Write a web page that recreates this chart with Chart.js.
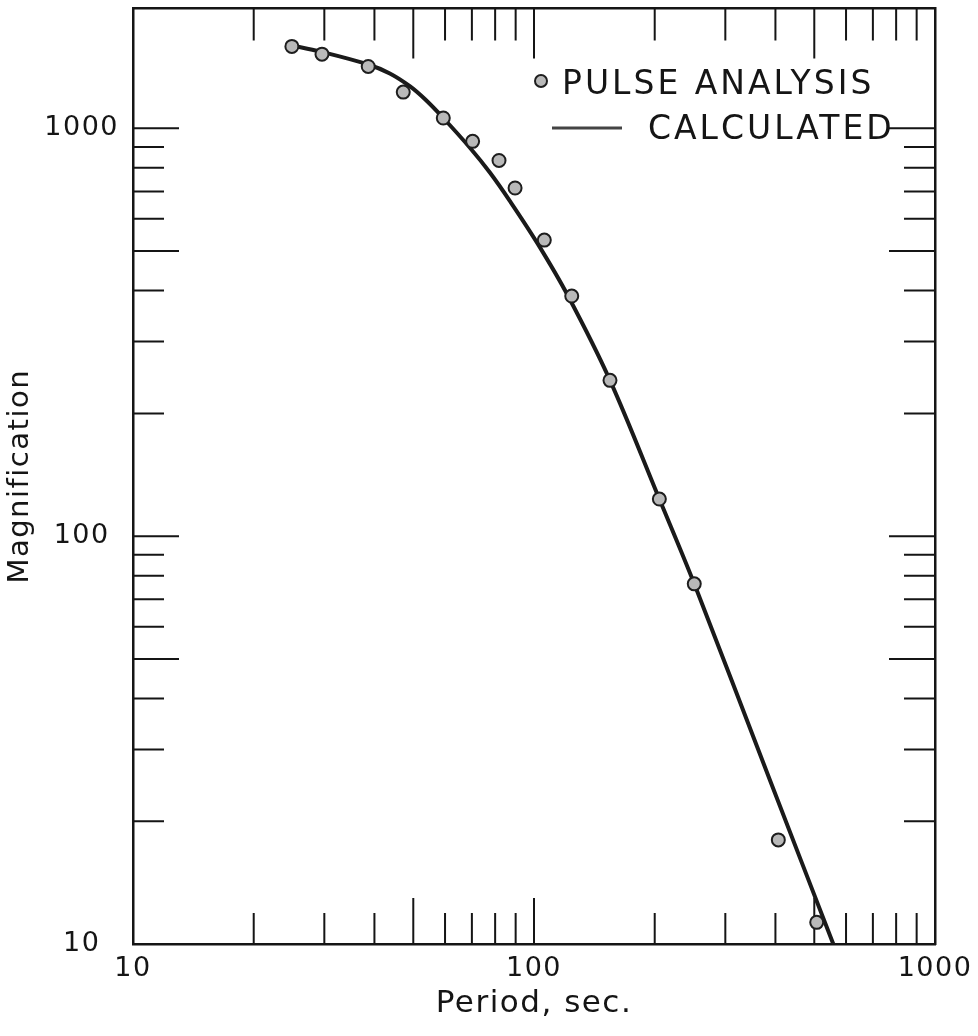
<!DOCTYPE html>
<html>
<head>
<meta charset="utf-8">
<script src="https://cdn.jsdelivr.net/npm/chart.js@4.4.1/dist/chart.umd.min.js"></script>
<style>
  html, body { margin: 0; padding: 0; background: #fff; }
  #wrap { width: 978px; height: 1036px; position: relative; }
</style>
</head>
<body>
<div id="wrap"><canvas id="mag-chart"></canvas></div>
<script>

// data ============================================================

const pulsePeriod = [24.9, 29.6, 38.6, 47.2, 59.4, 70.3, 81.8, 89.7, 106.1, 124.2, 154.7, 205.4, 251, 406.7, 507];
const pulseMag = [1588, 1520, 1418, 1227, 1060, 929, 834, 714, 532, 388, 241, 123.3, 76.4, 18.0, 11.3];

const calcPeriod = [24.9, 29.3, 38.6, 43.7, 49.1, 53.5, 59.4, 69.3, 77.7, 87.1, 102.3, 121.6, 154.7, 205.4, 251, 387.7, 557.6];
const calcMag = [1596, 1543, 1434, 1363, 1267, 1178, 1060, 895, 778, 663, 520, 388, 241, 123.3, 76.4, 25.2, 10.0];

const periodTicks = [10, 20, 30, 40, 50, 60, 70, 80, 90, 100, 200, 300, 400, 500, 600, 700, 800, 900, 1000];
const magTicks = [10, 20, 30, 40, 50, 60, 70, 80, 90, 100, 200, 300, 400, 500, 600, 700, 800, 900, 1000];
const labelledTicks = [10, 100, 1000];

const periodRange = [10, 1000];
const magRange = [10, 1967];

const FONT = '"DejaVu Sans", sans-serif';
const INK = '#151515';

// helpers ===========================================================

function setTicks(values) {
  return function (scale) {
    scale.ticks = values.map(v => ({ value: v }));
  };
}

// fixed box size, and no extra room for half-labels at the ends
function fixBox(side, size) {
  return function (scale) {
    scale[side] = size;
    scale.paddingTop = 0;
    scale.paddingBottom = 0;
    scale.paddingLeft = 0;
    scale.paddingRight = 0;
  };
}

function tickLabel(v) {
  return labelledTicks.includes(v) ? String(v) : '';
}

function isLong(v) {
  const s = v / Math.pow(10, Math.floor(Math.log10(v) + 1e-9));
  return Math.abs(s - 1) < 1e-6 || Math.abs(s - 5) < 1e-6;
}

// inward tick marks on all four sides, graph-paper style
const inwardTicks = {
  id: 'inwardTicks',
  beforeDatasetsDraw(chart) {
    const { ctx, chartArea: a } = chart;
    const xs = chart.scales.x;
    const ys = chart.scales.y;
    const shortLen = 31, longLen = 46;
    ctx.save();
    ctx.strokeStyle = INK;
    ctx.lineWidth = 2;
    ctx.beginPath();
    periodTicks.forEach(v => {
      if (v <= periodRange[0] || v >= periodRange[1]) return;
      const px = xs.getPixelForValue(v);
      const len = isLong(v) ? longLen : shortLen;
      ctx.moveTo(px, a.bottom); ctx.lineTo(px, a.bottom - len);
      ctx.moveTo(px, a.top); ctx.lineTo(px, a.top + len + (isLong(v) ? 4 : 1));
    });
    magTicks.forEach(v => {
      if (v <= magRange[0] || v >= magRange[1]) return;
      const py = ys.getPixelForValue(v);
      const len = isLong(v) ? longLen : shortLen;
      ctx.moveTo(a.left, py); ctx.lineTo(a.left + len, py);
      ctx.moveTo(a.right, py); ctx.lineTo(a.right - len, py);
    });
    ctx.stroke();
    ctx.restore();
  }
};

// legend sitting inside the frame, top right
const insideLegend = {
  id: 'insideLegend',
  afterDatasetsDraw(chart) {
    const ctx = chart.ctx;
    const ds = chart.data.datasets;
    ctx.save();
    ctx.font = '33px ' + FONT;
    ctx.letterSpacing = '3px';
    ctx.fillStyle = INK;
    ctx.textBaseline = 'middle';
    ctx.textAlign = 'left';

    ctx.beginPath();
    ctx.arc(541, 81, 6, 0, Math.PI * 2);
    ctx.fillStyle = ds[0].backgroundColor;
    ctx.fill();
    ctx.lineWidth = 2;
    ctx.strokeStyle = ds[0].borderColor;
    ctx.stroke();

    ctx.fillStyle = INK;
    ctx.fillText(ds[0].label, 562, 85);

    ctx.beginPath();
    ctx.moveTo(552, 128);
    ctx.lineTo(622, 128);
    ctx.lineWidth = 3;
    ctx.strokeStyle = '#444';
    ctx.stroke();

    ctx.fillText(ds[1].label, 648, 130);
    ctx.restore();
  }
};

const spacing = {
  id: 'spacing',
  beforeUpdate(chart) { chart.ctx.letterSpacing = '1.5px'; },
  beforeDraw(chart) { chart.ctx.letterSpacing = '1.5px'; }
};

// chart =============================================================

const frameBorder = { display: true, color: INK, width: 2.5 };
const noGrid = { drawOnChartArea: false, drawTicks: false };

const magChart = new Chart(document.getElementById('mag-chart'), {
  type: 'scatter',
  data: {
    datasets: [{
      label: 'PULSE ANALYSIS',
      data: pulsePeriod.map((p, i) => ({ x: p, y: pulseMag[i] })),
      backgroundColor: '#b9b9b9',
      borderColor: '#1e1e1e',
      borderWidth: 2,
      pointRadius: 6.5,
      order: 0
    }, {
      label: 'CALCULATED',
      data: calcPeriod.map((p, i) => ({ x: p, y: calcMag[i] })),
      showLine: true,
      borderColor: '#1a1a1a',
      borderWidth: 4,
      pointRadius: 0,
      tension: 0.35,
      order: 1
    }]
  },
  options: {
    responsive: true,
    maintainAspectRatio: false,
    animation: false,
    layout: { padding: 0 },
    plugins: {
      legend: { display: false },
      tooltip: { enabled: false }
    },
    scales: {
      x: {
        type: 'logarithmic',
        position: 'bottom',
        min: periodRange[0],
        max: periodRange[1],
        afterBuildTicks: setTicks(periodTicks),
        afterFit: fixBox('height', 92),
        grid: noGrid,
        border: frameBorder,
        ticks: {
          callback: tickLabel,
          autoSkip: false,
          maxRotation: 0,
          padding: 9,
          color: INK,
          font: { family: FONT, size: 27 }
        },
        title: {
          display: true,
          text: 'Period, sec.',
          color: INK,
          font: { family: FONT, size: 31 },
          padding: { top: 0, bottom: 13 }
        }
      },
      xTop: {
        type: 'logarithmic',
        axis: 'x',
        position: 'top',
        min: periodRange[0],
        max: periodRange[1],
        afterFit: fixBox('height', 7),
        grid: noGrid,
        border: frameBorder,
        ticks: { display: false }
      },
      y: {
        type: 'logarithmic',
        position: 'left',
        min: magRange[0],
        max: magRange[1],
        afterBuildTicks: setTicks(magTicks),
        afterFit: fixBox('width', 133),
        grid: noGrid,
        border: frameBorder,
        ticks: {
          callback: tickLabel,
          autoSkip: false,
          crossAlign: 'center',
          padding: 14,
          color: INK,
          font: { family: FONT, size: 27 }
        },
        title: {
          display: true,
          text: 'Magnification',
          color: INK,
          font: { family: FONT, size: 29 },
          padding: { top: 3, bottom: 0 }
        }
      },
      yRight: {
        type: 'logarithmic',
        axis: 'y',
        position: 'right',
        min: magRange[0],
        max: magRange[1],
        afterFit: fixBox('width', 43),
        grid: noGrid,
        border: frameBorder,
        ticks: { display: false }
      }
    }
  },
  plugins: [spacing, inwardTicks, insideLegend]
});

</script>
</body>
</html>
